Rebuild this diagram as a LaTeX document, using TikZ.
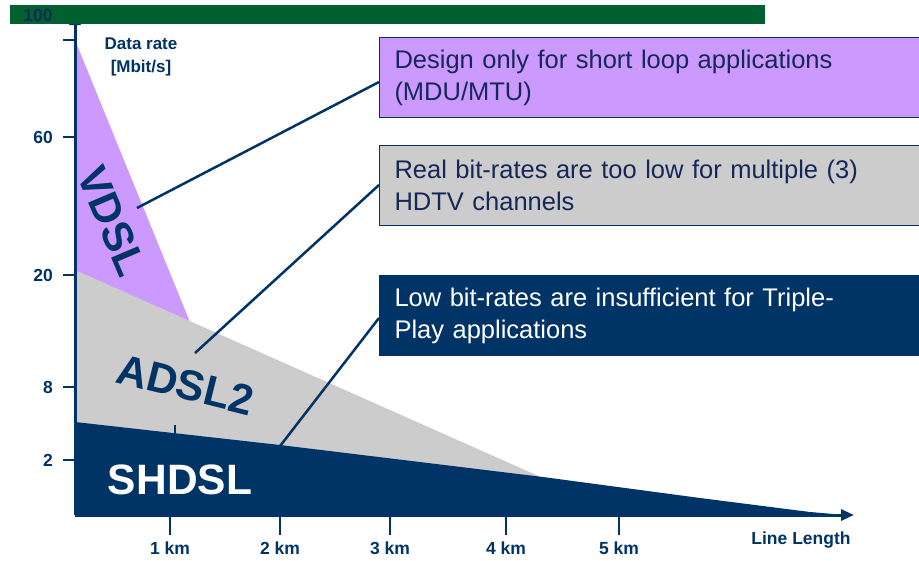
\documentclass[tikz,border=0pt]{standalone}
\usepackage{fontspec}
\setmainfont{Liberation Sans}
\usetikzlibrary{arrows.meta}
\definecolor{navy}{RGB}{0,51,102}
\definecolor{vdslc}{RGB}{204,153,255}
\definecolor{adslc}{RGB}{204,204,204}
\definecolor{topgreen}{RGB}{0,96,48}
\definecolor{txtnavy}{RGB}{22,40,88}
\begin{document}
\begin{tikzpicture}[x=1pt,y=-1pt,
  axis/.style={draw=navy,line width=3pt,-{Triangle[length=13pt,width=11pt]}},
  tickln/.style={draw=navy,line width=2.5pt},
  ticklab/.style={text=navy,font=\bfseries\fontsize{17.5}{19}\selectfont,inner sep=0pt},
  biglab/.style={font=\bfseries\fontsize{42.5}{46}\selectfont,inner sep=0pt},
  conn/.style={draw=navy,line width=2.5pt},
  callout/.style={draw=navy,line width=1pt,anchor=north west,minimum width=545pt,minimum height=80pt,
    text width=515pt,inner xsep=13pt,align=left,font=\fontsize{25.5}{32}\selectfont}
]
\useasboundingbox (0,0) rectangle (919,560);
\clip (0,0) rectangle (919,560);
% regions
\fill[vdslc] (75,40) -- (190,322) -- (75,322) -- cycle;
\fill[adslc] (75,270) -- (543,478) -- (543,515) -- (75,515) -- cycle;
\fill[navy] (75,422) -- (280,445) -- (543,477) -- (700,498) -- (810,512) -- (845,515) -- (75,515) -- cycle;
\draw[navy,line width=2pt] (175,425) -- (175,434);
% axes
\coordinate (O) at (75,515);
\coordinate (ytop) at (75,12);
\coordinate (xend) at (854,515);
\draw[axis] (O) -- (ytop);
\draw[axis] (O) -- (xend);
% y ticks
\foreach \yy/\lab/\nm in {40//t100,137/60/t60,275/20/t20,387/8/t8,460/2/t2}{
  \coordinate (\nm a) at (63,\yy);
  \coordinate (\nm b) at (75,\yy);
  \draw[tickln] (\nm a) -- (\nm b);
  \node[ticklab,anchor=east] (\nm l) at (53,\yy) {\lab};
}
% x ticks
\foreach \xx/\lab/\nm in {170/1/k1,280/2/k2,390/3/k3,506/4/k4,619/5/k5}{
  \coordinate (\nm a) at (\xx,515);
  \coordinate (\nm b) at (\xx,535);
  \draw[tickln] (\nm a) -- (\nm b);
  \node[ticklab] (\nm l) at (\xx,548) {\lab\ km};
}
\node[ticklab] (xlab) at (801,540) {Line Length};
\node[ticklab,align=center,font=\bfseries\fontsize{17}{23}\selectfont] (ylab) at (141,57) {Data rate\\{[Mbit/s]}};
% region labels
\node[biglab,text=navy,rotate=-67,anchor=base] (vdsl) at (99,227) {VDSL};
\node[biglab,text=navy,rotate=-14,anchor=base] (adsl) at (182,399) {ADSL2};
\node[biglab,text=white,anchor=base] (shdsl) at (180,494) {SHDSL};
% callouts
\node[callout,fill=vdslc,text=txtnavy] (b1) at (379,37) {Design only for short loop applications\\(MDU/MTU)};
\node[callout,fill=adslc,text=txtnavy] (b2) at (379,145) {Real bit-rates are too low for multiple (3)\\HDTV channels};
\node[callout,fill=navy,text=white] (b3) at (379,275) {Low bit-rates are insufficient for Triple-\\Play applications};
% connectors
\coordinate (c1) at (137,208);
\coordinate (c2) at (195,353);
\coordinate (c3) at (260,472);
\draw[conn] (c1) -- (b1.west |- 0,82);
\draw[conn] (c2) -- (b2.west |- 0,185);
\draw[conn] (c3) -- (b3.west |- 0,318);
% top bar
\fill[topgreen] (10,5) rectangle (765,24);
\node[ticklab,text=txtnavy] (hundred) at (38,15) {100};
\end{tikzpicture}
\end{document}
